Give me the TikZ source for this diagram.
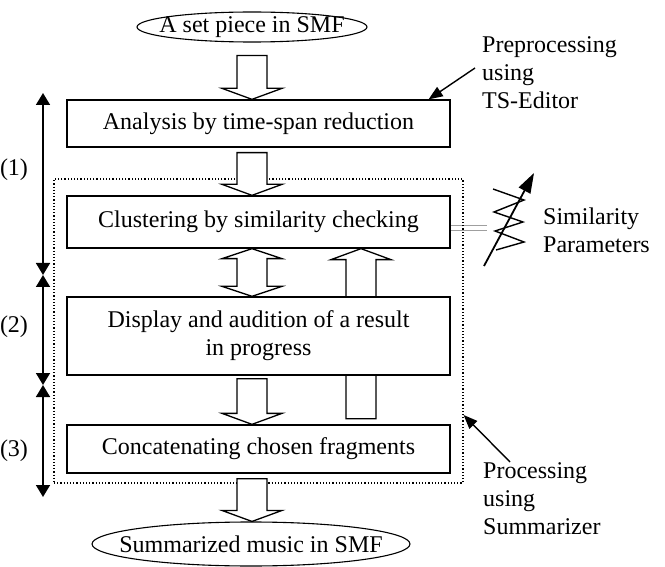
\documentclass[tikz,border=0pt]{standalone}
\usepackage{fontspec}
\setmainfont{Liberation Serif}
\usetikzlibrary{arrows.meta,shapes.geometric,calc}

\newcommand{\hArrowDown}[2]{%
  \path[hollow] let \p1=(#1), \p2=(#2) in
    (\x1-15pt,\y1) -- (\x1-15pt,\y2+11pt) -- (\x1-30pt,\y2+11pt) -- (\x1,\y2)
    -- (\x1+30pt,\y2+11pt) -- (\x1+15pt,\y2+11pt) -- (\x1+15pt,\y1) -- cycle;}
\newcommand{\hArrowUp}[2]{%
  \path[hollow] let \p1=(#1), \p2=(#2) in
    (\x1-15pt,\y1) -- (\x1-15pt,\y2-11pt) -- (\x1-30pt,\y2-11pt) -- (\x1,\y2)
    -- (\x1+30pt,\y2-11pt) -- (\x1+15pt,\y2-11pt) -- (\x1+15pt,\y1) -- cycle;}
\newcommand{\hArrowBoth}[2]{%
  \path[hollow] let \p1=(#1), \p2=(#2) in
    (\x1,\y1) -- (\x1+30pt,\y1-10pt) -- (\x1+15pt,\y1-10pt) -- (\x1+15pt,\y2+10pt)
    -- (\x1+30pt,\y2+10pt) -- (\x1,\y2) -- (\x1-30pt,\y2+10pt) -- (\x1-15pt,\y2+10pt)
    -- (\x1-15pt,\y1-10pt) -- (\x1-30pt,\y1-10pt) -- cycle;}

\begin{document}
\begin{tikzpicture}[x=1pt,y=-1pt,
  every node/.style={font=\fontsize{24}{28}\selectfont},
  box/.style={draw, line width=1.3pt, fill=white, minimum width=383pt, inner sep=0pt, align=center},
  oval/.style={draw, ellipse, line width=1.1pt, fill=white, inner xsep=-25pt, inner ysep=0pt},
  hollow/.style={draw, line width=1.3pt, fill=white},
  span/.style={line width=1.6pt, {Triangle[width=14pt,length=12pt]}-{Triangle[width=14pt,length=12pt]}},
  ptr/.style={line width=1.4pt, -{Triangle[width=11pt,length=14pt]}},
  lbl/.style={align=left, inner sep=0pt, anchor=west},
  simline/.style={draw=gray!75, line width=1.5pt, double=white, double distance=3.5pt},
  procbox/.style={draw, dotted, line width=1.2pt, inner sep=0pt}
]
\useasboundingbox (0,0) rectangle (665,567);

\coordinate (ax) at (252,0);
\coordinate (ux) at (361,0);

% nodes
\node[oval, minimum width=230pt, minimum height=30pt] (src) at (252,27) {A set piece in SMF};
\node[box, minimum height=47pt] (ana) at (258.5,123.5) {Analysis by time-span reduction};

\draw[simline] (450,228) -- (487,228);
\node[procbox, minimum width=409pt, minimum height=304pt] (proc) at (258.5,331) {};

\node[box, minimum height=52pt] (clu) at (258.5,222) {Clustering by similarity checking};
\hArrowUp{$(clu.south -| ux)+(0,170)$}{clu.south -| ux}
\node[box, minimum height=78pt] (dis) at (258.5,336) {Display and audition of a result\\in progress};
\node[box, minimum height=48pt] (cat) at (258.5,449) {Concatenating chosen fragments};
\node[oval, minimum width=318pt, minimum height=44pt] (out) at (251,544) {Summarized music in SMF};

% hollow connectors
\hArrowDown{$(src.south)+(0,13)$}{src.south |- ana.north}
\hArrowDown{$(ana.south -| ax)+(0,5)$}{clu.north -| ax}
\hArrowBoth{clu.south -| ax}{dis.north -| ax}
\hArrowDown{$(dis.south -| ax)+(0,3)$}{cat.north -| ax}
\hArrowDown{$(cat.south -| ax)+(0,5)$}{out.north -| ax}

% side labels
\node[lbl] (pre) at (482,73) {Preprocessing\\using\\TS-Editor};
\coordinate (preS) at (475,68);
\coordinate (preT) at ($(ana.north east)+(-22,0)$);
\draw[ptr] (preS) -- (preT);

\node[lbl] (post) at (483,499) {Processing\\using\\Summarizer};
\coordinate (postS) at (510,462);
\coordinate (postT) at (proc.east |- 0,415);
\draw[ptr] (postS) -- (postT);

\node[lbl] (sim) at (543,230) {Similarity\\Parameters};
\draw[line width=1.4pt] (493,189) -- (524,200) -- (494,212) -- (523,222) -- (495,231) -- (524,242) -- (496,250);
\draw[line width=1.8pt, -{Triangle[width=13pt,length=20pt]}] (484,266) -- (534,173);

% phase spans
\coordinate (t0) at (43,93);
\coordinate (t1) at (43,275);
\coordinate (t2) at (43,385);
\coordinate (t3) at (43,497);
\draw[span] (t0) -- (t1);
\draw[span] (t1) -- (t2);
\draw[span] (t2) -- (t3);
\node[inner sep=0pt] (l1) at (14,170) {(1)};
\node[inner sep=0pt] (l2) at (14,327) {(2)};
\node[inner sep=0pt] (l3) at (14,451) {(3)};
\end{tikzpicture}
\end{document}
